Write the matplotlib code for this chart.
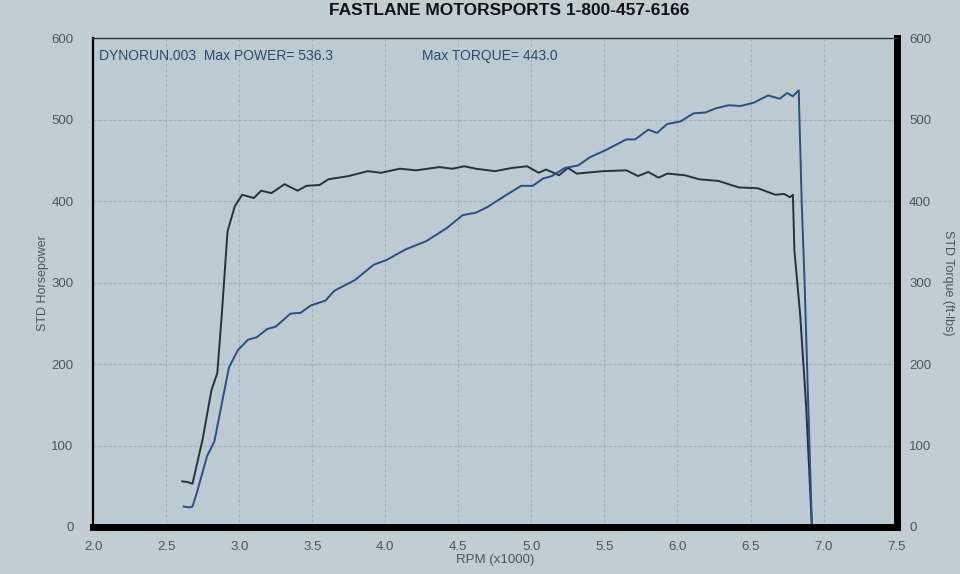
import numpy as np
import matplotlib.pyplot as plt

plt.rcParams['font.family'] = ['Liberation Sans', 'DejaVu Sans']

# STD horsepower (rpm x1000, hp)
rpm_hp = [2.62, 2.66, 2.68, 2.71, 2.78, 2.83, 2.89, 2.93, 2.99, 3.06, 3.12, 3.19,
          3.25, 3.35, 3.42, 3.49, 3.59, 3.65, 3.79, 3.92, 4.01, 4.14, 4.28, 4.42,
          4.53, 4.62, 4.70, 4.83, 4.93, 5.01, 5.08, 5.14, 5.23, 5.32, 5.40, 5.51,
          5.65, 5.71, 5.80, 5.86, 5.93, 6.02, 6.11, 6.19, 6.26, 6.35, 6.43, 6.52,
          6.62, 6.70, 6.75, 6.79, 6.83, 6.835, 6.85, 6.87, 6.89, 6.92]
hp = [25, 24, 25, 42, 87, 105, 160, 196, 217, 230, 233, 243,
      246, 262, 263, 272, 278, 290, 303, 322, 328, 341, 351, 367,
      383, 386, 393, 408, 419, 419, 428, 431, 441, 444, 454, 463,
      476, 476, 488, 484, 495, 498, 508, 509, 514, 518, 517, 521,
      530, 526, 533, 529, 536.3, 500, 400, 300, 180, 0]

# STD torque (ft-lbs)
rpm_tq = [2.61, 2.65, 2.68, 2.75, 2.81, 2.85, 2.88, 2.92, 2.97, 3.02, 3.10, 3.15,
          3.22, 3.31, 3.40, 3.46, 3.55, 3.61, 3.75, 3.88, 3.97, 4.10, 4.21, 4.37,
          4.46, 4.54, 4.62, 4.75, 4.87, 4.97, 5.05, 5.10, 5.19, 5.25, 5.31, 5.49,
          5.65, 5.73, 5.80, 5.87, 5.93, 6.05, 6.15, 6.28, 6.42, 6.55, 6.67, 6.73,
          6.77, 6.79, 6.80, 6.84, 6.88, 6.92]
tq = [56, 55, 53, 108, 168, 189, 259, 363, 394, 408, 404, 413,
      410, 421, 413, 419, 420, 427, 431, 437, 435, 440, 438, 442,
      440, 443, 440, 437, 441, 443, 435, 439, 432, 441, 434, 437,
      438, 431, 436, 429, 434, 432, 427, 425, 417, 416, 408, 409,
      405, 408, 340, 260, 150, 0]

x_ticks = [2.0, 2.5, 3.0, 3.5, 4.0, 4.5, 5.0, 5.5, 6.0, 6.5, 7.0, 7.5]
y_ticks = [0, 100, 200, 300, 400, 500, 600]

paper = '#c0cdd3'
grid_c = '#a3b2b9'
lbl_c = '#4d5559'

fig = plt.figure(figsize=(9.6, 5.74), dpi=100, facecolor=paper)
ax = fig.add_axes([0.097, 0.082, 0.837, 0.851])
ax.set_facecolor('#bccad2')

ax.plot(rpm_tq, tq, color='#24323e', lw=1.4)
ax.plot(rpm_hp, hp, color='#2b4f7e', lw=1.4)

ax.set_xlim(2.0, 7.5)
ax.set_ylim(0, 600)
ax.set_xticks(x_ticks)
ax.set_xticklabels([f'{v:.1f}' for v in x_ticks])
ax.set_yticks(y_ticks)
ax.grid(True, color=grid_c, lw=0.8, ls=(0, (3, 1.5)))
ax.tick_params(length=0, labelsize=9.5, labelcolor=lbl_c, pad=14)
ax.tick_params(axis='x', pad=10)

ax.spines['left'].set_linewidth(1.6)
ax.spines['top'].set_linewidth(1.0)
ax.spines['top'].set_color('#333')
ax.spines['bottom'].set_linewidth(5)
ax.spines['right'].set_linewidth(5)
for s in ax.spines.values():
    s.set_zorder(5)

ax2 = ax.twinx()
ax2.set_ylim(0, 600)
ax2.set_yticks(y_ticks)
ax2.tick_params(length=0, labelsize=9.5, labelcolor=lbl_c, pad=9)
for s in ax2.spines.values():
    s.set_visible(False)

ax.set_xlabel('RPM (x1000)', fontsize=9.5, color=lbl_c, labelpad=1)
ax.set_ylabel('STD Horsepower', fontsize=9, color=lbl_c, labelpad=2)
ax2.set_ylabel('STD Torque (ft-lbs)', fontsize=9, color=lbl_c, rotation=-90, va='center')
ax2.yaxis.set_label_coords(1.064, 0.5)

ax.text(2.04, 578, 'DYNORUN.003  Max POWER= 536.3', fontsize=10, color='#2c4a6a', va='center')
ax.text(4.25, 578, 'Max TORQUE= 443.0', fontsize=10, color='#2c4a6a', va='center')

fig.text(0.53, 0.995, 'FASTLANE MOTORSPORTS 1-800-457-6166', fontsize=12.5,
         fontweight='bold', color='#111', ha='center', va='top')

fig.savefig('out.png', dpi=100, facecolor=paper)
